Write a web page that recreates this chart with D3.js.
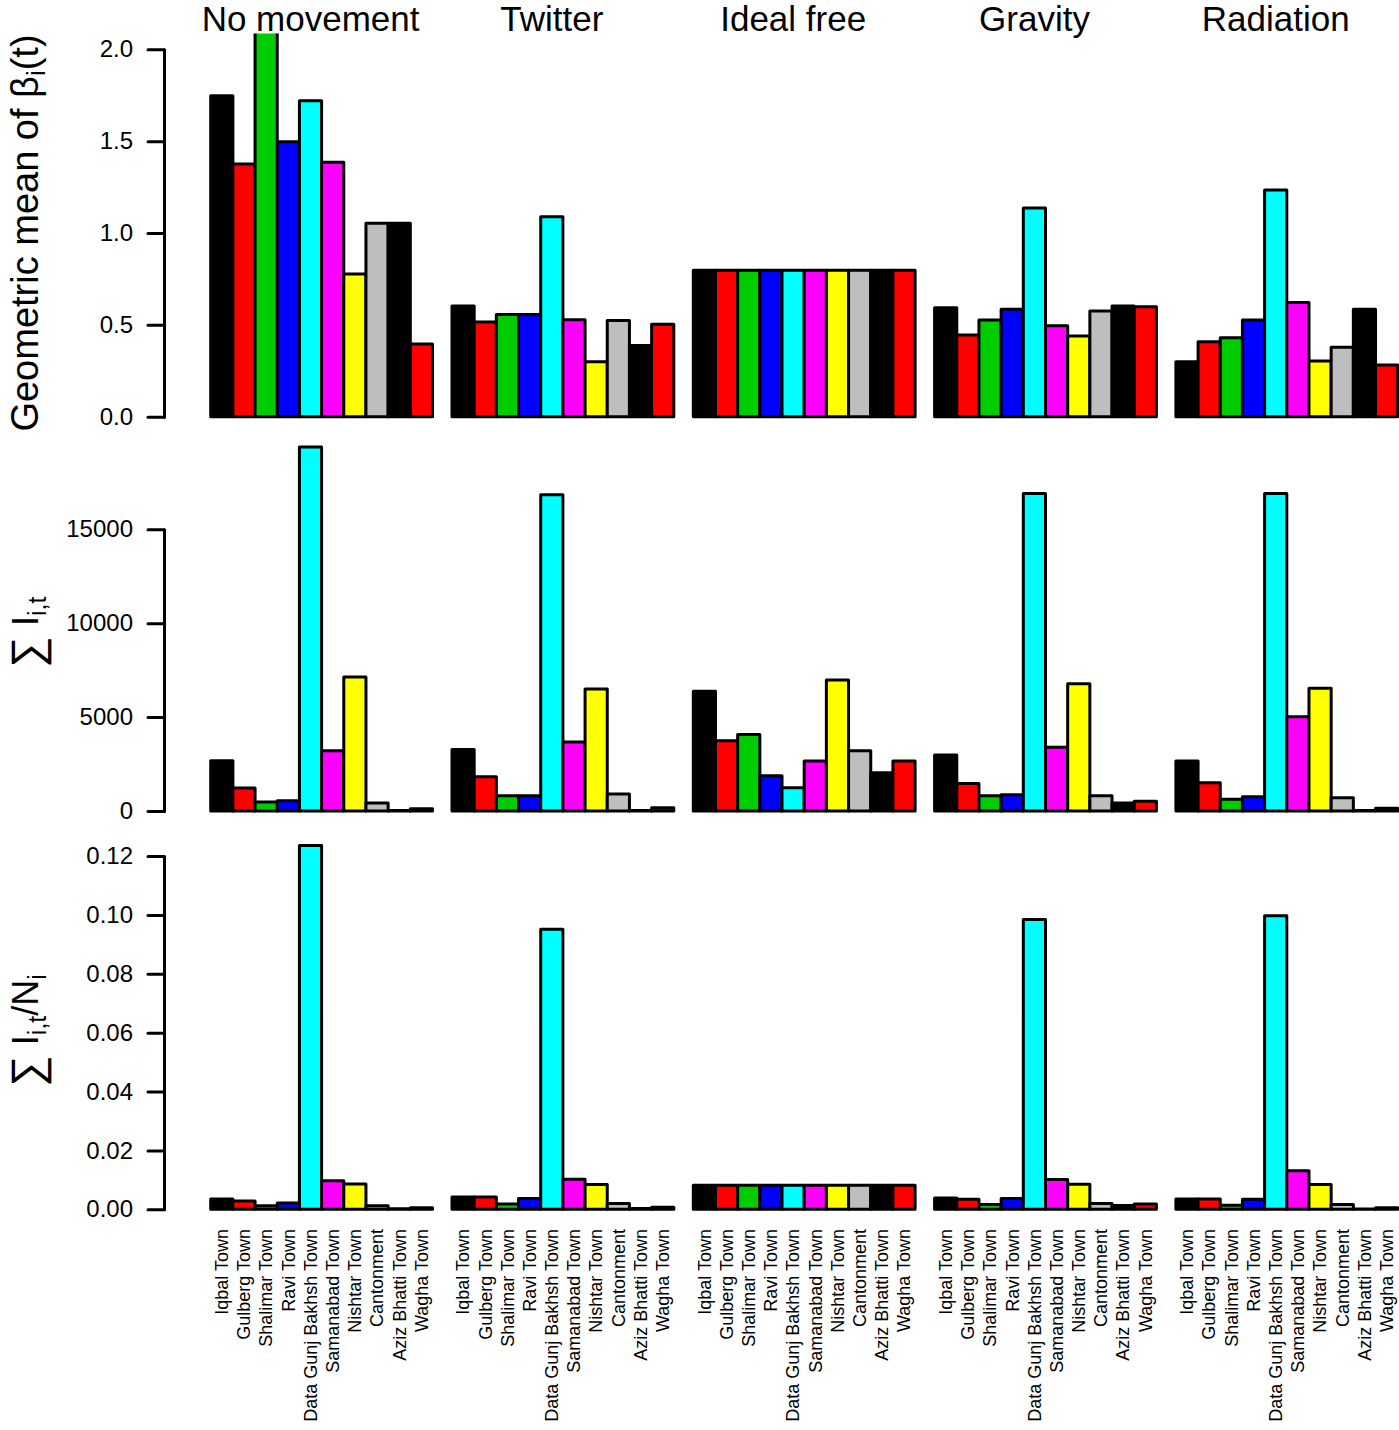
<!DOCTYPE html>
<html>
<head>
<meta charset="utf-8">
<script src="https://cdn.jsdelivr.net/npm/d3@7"></script>
<style>
  html, body { margin: 0; padding: 0; background: #fff; }
  text { font-family: "Liberation Sans", Arial, Helvetica, sans-serif; fill: #000; }
</style>
</head>
<body>
<svg id="chart" width="1399" height="1430"></svg>
<script>
// ---------------- DATA ----------------
const categories = ["Iqbal Town", "Gulberg Town", "Shalimar Town", "Ravi Town",
  "Data Gunj Bakhsh Town", "Samanabad Town", "Nishtar Town", "Cantonment",
  "Aziz Bhatti Town", "Wagha Town"];
const models = ["No movement", "Twitter", "Ideal free", "Gravity", "Radiation"];
const barColors = ["#000000", "#FF0000", "#00CD00", "#0000FF", "#00FFFF",
  "#FF00FF", "#FFFF00", "#BEBEBE", "#000000", "#FF0000"];

// Row 1: geometric mean of beta_i(t)
const betaNoMovement = [1.747, 1.376, 2.25, 1.497, 1.720, 1.385, 0.777, 1.053, 1.053, 0.396];
const betaTwitter    = [0.603, 0.515, 0.557, 0.557, 1.089, 0.528, 0.299, 0.523, 0.387, 0.503];
const betaIdealFree  = [0.797, 0.797, 0.797, 0.797, 0.797, 0.797, 0.797, 0.797, 0.797, 0.797];
const betaGravity    = [0.593, 0.445, 0.526, 0.585, 1.136, 0.495, 0.439, 0.575, 0.603, 0.599];
const betaRadiation  = [0.299, 0.408, 0.430, 0.526, 1.234, 0.621, 0.303, 0.378, 0.585, 0.281];

// Row 2: sum of I_{i,t}
const infNoMovement = [2680, 1230, 480, 550, 19380, 3210, 7140, 430, 20, 120];
const infTwitter    = [3280, 1820, 810, 810, 16840, 3670, 6500, 900, 30, 175];
const infIdealFree  = [6380, 3740, 4080, 1880, 1240, 2660, 6970, 3210, 2040, 2660];
const infGravity    = [2980, 1470, 810, 870, 16900, 3390, 6770, 810, 425, 514];
const infRadiation  = [2660, 1510, 620, 760, 16900, 5020, 6540, 710, 20, 144];

// Row 3: sum of I_{i,t} / N_i
const rateNoMovement = [0.0035, 0.0028, 0.0012, 0.0021, 0.1236, 0.0097, 0.0086, 0.0012, 0.0002, 0.0005];
const rateTwitter    = [0.0042, 0.0042, 0.0018, 0.0037, 0.0951, 0.0102, 0.0084, 0.0020, 0.0003, 0.0007];
const rateIdealFree  = [0.0082, 0.0082, 0.0082, 0.0082, 0.0082, 0.0082, 0.0082, 0.0082, 0.0082, 0.0082];
const rateGravity    = [0.0038, 0.0034, 0.0016, 0.0037, 0.0984, 0.0101, 0.0085, 0.0020, 0.0013, 0.0018];
const rateRadiation  = [0.0035, 0.0035, 0.0014, 0.0034, 0.0997, 0.0131, 0.0084, 0.0016, 0.0001, 0.0005];

const betaTicks = [0, 0.5, 1.0, 1.5, 2.0];
const infTicks  = [0, 5000, 10000, 15000];
const rateTicks = [0, 0.02, 0.04, 0.06, 0.08, 0.10, 0.12];

// ---------------- LAYOUT ----------------
const svg = d3.select("#chart");
const panelStart = 210.7, panelPitch = 241.3, groupW = 221.8;
const axisX = 164;

const rows = [
  { data: [betaNoMovement, betaTwitter, betaIdealFree, betaGravity, betaRadiation],
    ticks: betaTicks, fmt: d3.format(".1f"), y0: 416.7, yTop: 49.3, clipMax: 2.08 },
  { data: [infNoMovement, infTwitter, infIdealFree, infGravity, infRadiation],
    ticks: infTicks, fmt: d3.format("d"), y0: 811, yTop: 529.3, clipMax: null },
  { data: [rateNoMovement, rateTwitter, rateIdealFree, rateGravity, rateRadiation],
    ticks: rateTicks, fmt: d3.format(".2f"), y0: 1209.3, yTop: 856, clipMax: null }
];

rows.forEach((row, ri) => {
  const tMax = row.ticks[row.ticks.length - 1];
  row.y = d3.scaleLinear().domain([0, tMax]).range([row.y0, row.yTop]);
  const dataMax = d3.max(row.data.flat());
  const top = row.clipMax !== null ? row.y(row.clipMax) - 1 : row.y(dataMax * 1.04) - 3;
  const clipId = "clip" + ri;
  svg.append("clipPath").attr("id", clipId)
    .append("rect").attr("x", 0).attr("y", top).attr("width", 1399).attr("height", 1430 - top);

  row.data.forEach((vals, ci) => {
    const left = panelStart + ci * panelPitch;
    const x = d3.scaleBand().domain(categories).range([left, left + groupW]).padding(0);
    const g = svg.append("g").attr("clip-path", `url(#${clipId})`);
    g.selectAll("rect").data(vals).join("rect")
      .attr("x", (d, i) => x(categories[i]))
      .attr("width", x.bandwidth())
      .attr("y", d => row.y(d))
      .attr("height", d => row.y(0) - row.y(d))
      .attr("fill", (d, i) => barColors[i])
      .attr("stroke", "#000")
      .attr("stroke-width", 3)
      .attr("stroke-linejoin", "round");

    if (ri === 2) {
      svg.append("g").selectAll("text").data(categories).join("text")
        .attr("transform", d => `translate(${x(d) + x.bandwidth() / 2},1229) rotate(-90)`)
        .attr("dy", "0.35em")
        .attr("text-anchor", "end")
        .style("font-size", "18px")
        .text(d => d);
    }
    if (ri === 0) {
      svg.append("text")
        .attr("x", left + groupW / 2 - 11)
        .attr("y", 30.5)
        .attr("text-anchor", "middle")
        .style("font-size", "35px")
        .text(models[ci]);
    }
  });

  // y axis
  const ax = d3.axisLeft(row.y).tickValues(row.ticks).tickFormat(row.fmt)
    .tickSize(16).tickSizeOuter(0).tickPadding(15);
  const ag = svg.append("g").attr("transform", `translate(${axisX},0)`).call(ax);
  ag.selectAll("path, line").attr("stroke", "#000").attr("stroke-width", 3).attr("stroke-linecap", "round");
  ag.selectAll("text").style("font-size", "24px").attr("font-family", null).attr("fill", "#000");
  ag.attr("font-family", null).attr("font-size", null);

  row.labelY = ri === 0 ? row.y(1.0) : row.y(dataMax / 2) + 3;
});

// y-axis titles
const t1 = svg.append("text")
  .attr("transform", `translate(38,${rows[0].labelY}) rotate(-90)`)
  .attr("text-anchor", "middle").style("font-size", "38px");
t1.append("tspan").text("Geometric mean of β");
t1.append("tspan").text("i").style("font-size", "26px").attr("dy", 7);
t1.append("tspan").text("(t)").attr("dy", -7);

function sumLabel(cy, withN) {
  const t = svg.append("text")
    .attr("transform", `translate(38,${cy}) rotate(-90)`)
    .attr("text-anchor", "middle").style("font-size", "36px");
  t.append("tspan").text("∑").style("font-size", "44px").attr("dy", 4);
  t.append("tspan").text(" I").attr("dy", -4);
  t.append("tspan").text("i,t").style("font-size", "25px").attr("dy", 8);
  if (withN) {
    t.append("tspan").text("/N").attr("dy", -8);
    t.append("tspan").text("i").style("font-size", "25px").attr("dy", 8);
  }
}
sumLabel(rows[1].labelY, false);
sumLabel(rows[2].labelY, true);
</script>
</body>
</html>
